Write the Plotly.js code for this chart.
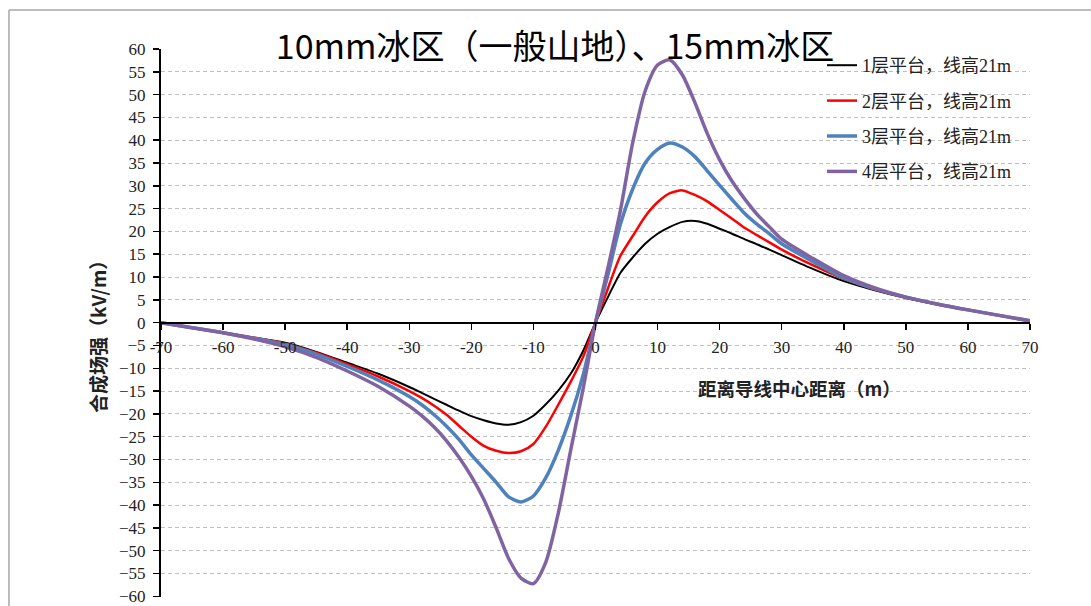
<!DOCTYPE html>
<html>
<head>
<meta charset="utf-8">
<script src="https://cdn.plot.ly/plotly-3.0.1.min.js"></script>
<style>
html,body{margin:0;padding:0;background:#fff;}
#chart{width:1091px;height:606px;}
</style>
</head>
<body>
<div id="chart"></div>
<script>
// Distance from conductor centre (m)
const distance = [-70,-65,-60,-55,-50,-45,-40,-35,-30,-28,-26,-24,-22,-20,-18,-16,-14,-12,-10,-8,-6,-4,-2,0,2,4,6,8,10,12,14,16,18,20,22,24,26,28,30,35,40,45,50,55,60,65,70];

// Combined field strength (kV/m)
const layer1 = [0,-1.1,-2.2,-3.3,-4.4,-6.4,-8.8,-11.2,-14.1,-15.4,-16.7,-18.0,-19.3,-20.5,-21.4,-22.1,-22.4,-21.8,-20.4,-17.9,-14.9,-11.2,-6.2,0,5.6,10.9,14.3,17.3,19.5,21.0,22.1,22.3,21.7,20.6,19.5,18.3,17.2,16.0,14.8,11.8,9.1,7.1,5.4,4.0,2.8,1.6,0.4];
const layer2 = [0,-1.1,-2.2,-3.3,-4.6,-6.6,-9.1,-11.8,-15.0,-16.5,-18.2,-20.2,-22.6,-25.0,-27.0,-28.1,-28.6,-28.2,-26.6,-22.8,-18.0,-13.0,-7.5,0,7.5,14.6,19.0,23.3,26.4,28.4,29.0,28.0,26.6,24.7,22.8,20.8,19.2,17.6,16.0,12.6,9.6,7.3,5.5,4.1,2.8,1.6,0.4];
const layer3 = [0,-1.1,-2.2,-3.4,-4.8,-6.9,-9.6,-12.6,-16.2,-18.0,-20.2,-22.7,-25.6,-29.0,-32.0,-35.0,-38.2,-39.3,-38.0,-34.0,-28.0,-20.5,-11.5,0,10.5,21.5,29.3,35.0,38.0,39.4,38.5,36.4,33.3,30.1,27.0,24.0,21.6,19.5,17.3,13.4,9.8,7.4,5.6,4.1,2.8,1.6,0.4];
const layer4 = [0,-1.1,-2.2,-3.6,-5.3,-7.6,-10.6,-14.0,-18.3,-20.4,-22.9,-25.9,-29.5,-33.7,-38.7,-45.0,-51.7,-56.0,-57.2,-52.5,-41.8,-28.0,-14.5,0,12.0,24.5,39.5,50.8,56.5,57.6,54.3,48.3,41.5,35.7,31.0,27.2,23.8,21.0,18.3,14.1,10.3,7.6,5.6,4.1,2.8,1.6,0.4];

const seriesNames = ["1层平台，线高21m","2层平台，线高21m","3层平台，线高21m","4层平台，线高21m"];
const seriesData = [layer1, layer2, layer3, layer4];
const seriesColors = ["#000000","#FF0000","#4F81BD","#8064A2"];
const seriesWidths = [2, 2.5, 3.5, 3.5];

const xTicks = [-70,-60,-50,-40,-30,-20,-10,0,10,20,30,40,50,60,70];

const chartTitle = "10mm冰区（一般山地）、15mm冰区";
const xTitle = "距离导线中心距离（m）";
const yTitle = "合成场强（kV/m）";

const traces = seriesData.map((ys, i) => ({
  type: "scatter",
  mode: "lines",
  x: distance,
  y: ys,
  name: seriesNames[i],
  legendgroup: "g" + i,
  line: {color: seriesColors[i], width: seriesWidths[i], shape: "spline", smoothing: 0.7}
}));

const W = 1091, H = 606;
const L = 161, R = 1030, T = 49, B = 597;
const pw = R - L, ph = B - T;
const px = v => (v - L) / pw;
const py = v => (B - v) / ph;

const layout = {
  width: W, height: H,
  paper_bgcolor: "#ffffff",
  plot_bgcolor: "#ffffff",
  margin: {l: L, r: W - R, t: T, b: H - B, autoexpand: false},
  showlegend: true,
  title: {
    text: chartTitle,
    xref: "container", yref: "container",
    x: 555 / W, xanchor: "center",
    y: 1 - 47 / H, yanchor: "middle",
    font: {family: "Noto Sans CJK SC", size: 34, color: "#000"}
  },
  xaxis: {
    range: [-70, 70],
    tickvals: xTicks,
    ticktext: xTicks.map(String),
    anchor: "free",
    position: 0.5,
    showline: true, linecolor: "#000", linewidth: 2,
    ticks: "outside", ticklen: 6, tickwidth: 1.5, tickcolor: "#000",
    showgrid: false, zeroline: false,
    ticklabelstandoff: 3,
    ticklabeloverflow: "allow",
    tickfont: {family: "Liberation Serif", size: 17, color: "#222"}
  },
  yaxis: {
    range: [-60.15, 60],
    tickvals: [-60,-55,-50,-45,-40,-35,-30,-25,-20,-15,-10,-5,0,5,10,15,20,25,30,35,40,45,50,55,60],
    showline: true, linecolor: "#000", linewidth: 2,
    ticks: "outside", ticklen: 6, tickwidth: 1.5, tickcolor: "#000",
    showgrid: true, gridcolor: "#BFBFBF", gridwidth: 1, griddash: "4px,3px",
    zeroline: false,
    ticklabelstandoff: 4,
    ticklabeloverflow: "allow",
    tickfont: {family: "Liberation Serif", size: 17, color: "#222"}
  },
  legend: {
    xref: "container", yref: "container",
    x: 822 / W, xanchor: "left",
    y: 1 - 47 / H, yanchor: "top",
    bgcolor: "rgba(0,0,0,0)",
    borderwidth: 0,
    traceorder: "grouped",
    tracegroupgap: 9,
    font: {family: "Liberation Serif, Noto Sans CJK SC", size: 18, color: "#222"}
  },
  annotations: [
    {text: "<b>" + xTitle + "</b>", xref: "paper", yref: "paper",
     x: px(799), y: py(388), xanchor: "center", yanchor: "middle", showarrow: false,
     font: {family: "Noto Sans CJK SC", size: 18.5, color: "#222"}},
    {text: "<b>" + yTitle + "</b>", xref: "paper", yref: "paper", textangle: -90,
     x: px(97), y: py(332), xanchor: "center", yanchor: "middle", showarrow: false,
     font: {family: "Noto Sans CJK SC", size: 19, color: "#222"}}
  ],
  shapes: [
    {type: "line", xref: "paper", yref: "paper", x0: px(9), x1: px(1200), y0: py(10), y1: py(10),
     line: {color: "#A6A6A6", width: 1.5}, layer: "below"},
    {type: "line", xref: "paper", yref: "paper", x0: px(9), x1: px(9), y0: py(10), y1: py(700),
     line: {color: "#A6A6A6", width: 1.5}, layer: "below"}
  ]
};

Plotly.newPlot("chart", traces, layout, {displayModeBar: false, staticPlot: true});
</script>
</body>
</html>
